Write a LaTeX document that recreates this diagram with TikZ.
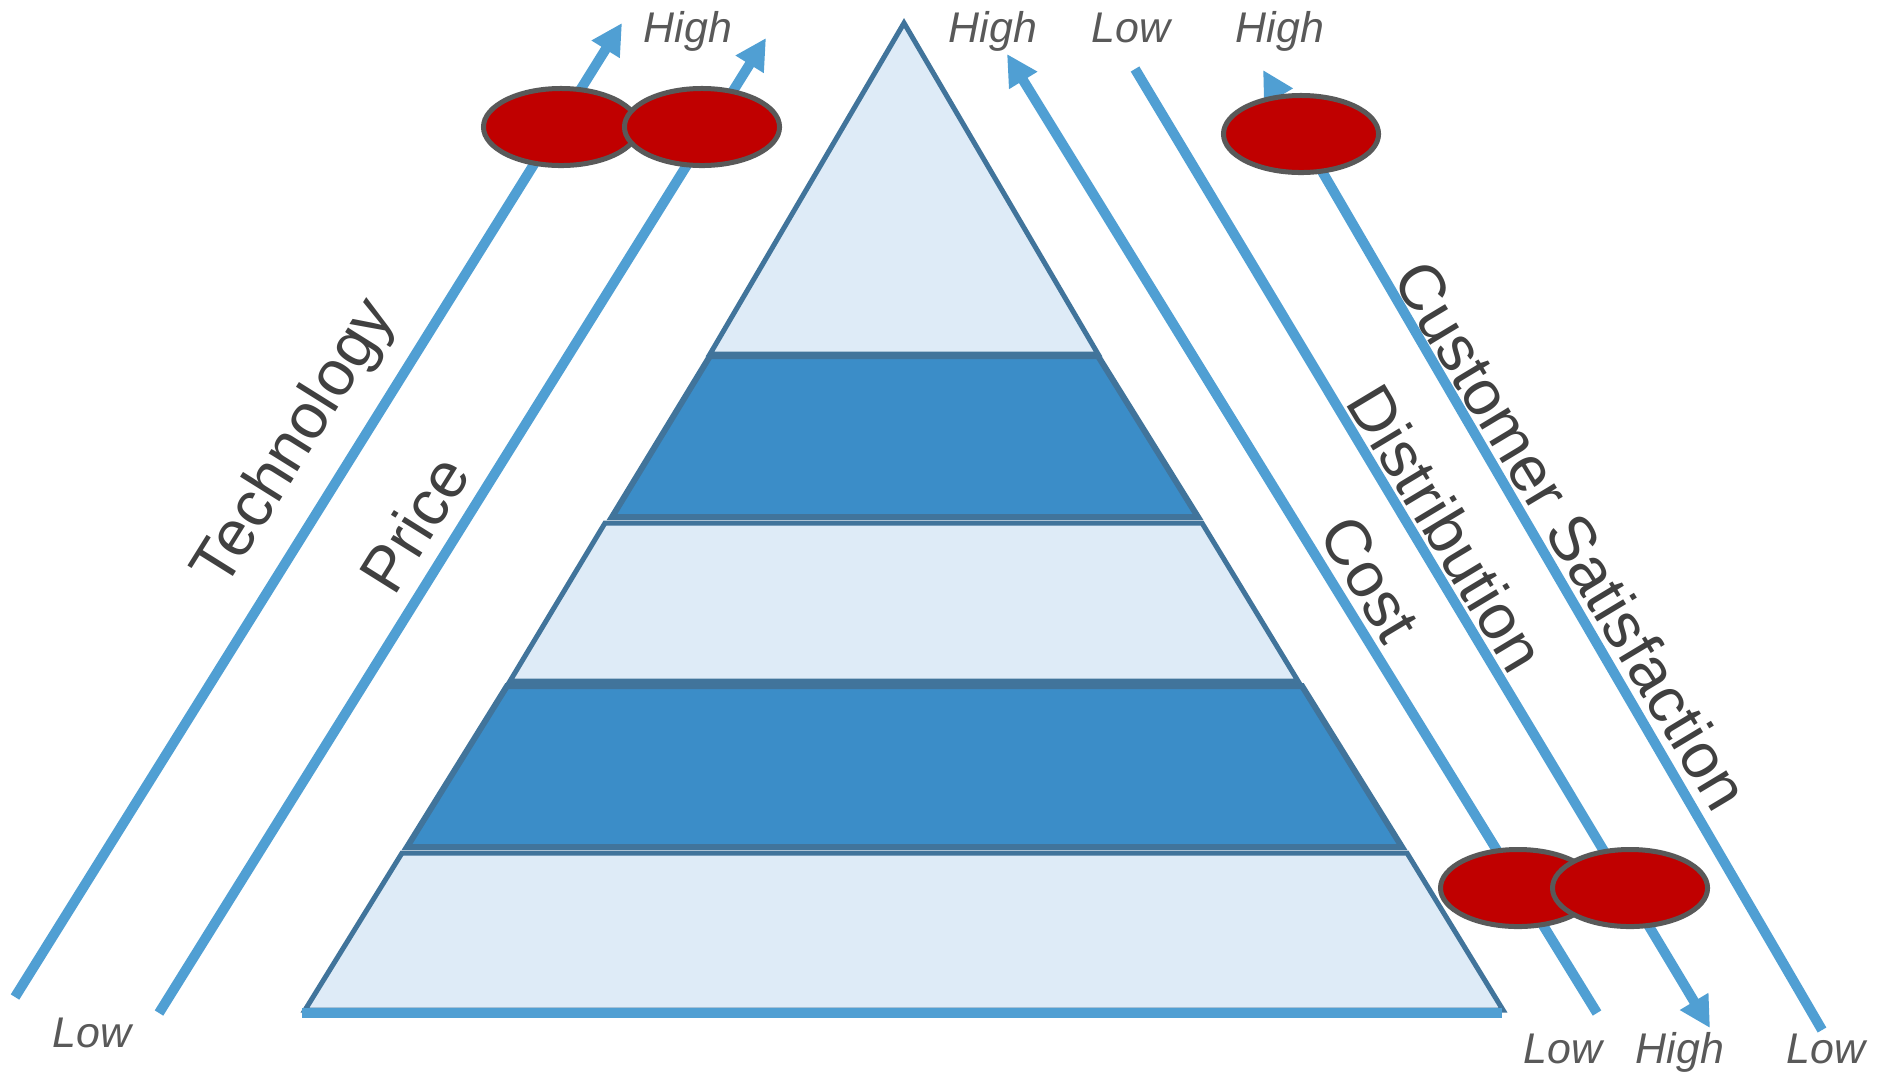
\documentclass[tikz,border=0pt]{standalone}
\usepackage{fontspec}
\setmainfont{Liberation Sans}
\usetikzlibrary{arrows.meta,shapes.geometric}
\definecolor{axisblue}{RGB}{80,159,211}
\definecolor{lightfill}{RGB}{222,235,247}
\definecolor{darkfill}{RGB}{59,141,200}
\definecolor{edgeblue}{RGB}{65,116,155}
\definecolor{dotred}{RGB}{192,0,0}
\definecolor{dotborder}{RGB}{89,89,89}
\definecolor{levelgray}{RGB}{89,89,89}
\definecolor{namegray}{RGB}{64,64,64}
\begin{document}
\begin{tikzpicture}[x=0.01cm,y=-0.01cm,
  axisline/.style={draw=axisblue,line width=0.1cm},
  axisarrow/.style={axisline,-{Triangle[length=0.31cm,width=0.31cm]}},
  layerlight/.style={fill=lightfill,draw=edgeblue,line width=0.05cm,line join=miter},
  layerdark/.style={fill=darkfill,draw=edgeblue,line width=0.06cm,line join=miter},
  reddot/.style={ellipse,draw=dotborder,fill=dotred,line width=0.05cm,minimum width=1.55cm,minimum height=0.77cm,inner sep=0pt},
  levellabel/.style={text=levelgray,font=\fontsize{12.2}{14}\selectfont\itshape,anchor=base,inner sep=0pt},
  axisname/.style={text=namegray,font=\fontsize{18.2}{21}\selectfont,anchor=center,inner sep=0pt}]
\useasboundingbox (0,0) rectangle (1883,1075);

% pyramid layers
\path[layerlight] (904,23) -- (1098,354) -- (710,354) -- cycle;
\path[layerdark] (710,356) -- (1098,356) -- (1198,517) -- (612,517) -- cycle;
\path[layerlight] (605,523) -- (1202,523) -- (1298,681) -- (510,681) -- cycle;
\path[layerdark] (507,686) -- (1302,686) -- (1402,847) -- (407,847) -- cycle;
\path[layerlight] (402,853) -- (1407,853) -- (1503,1010) -- (305,1010) -- cycle;

% base bar
\coordinate (baseL) at (302,1013);
\coordinate (baseR) at (1502,1013);
\draw[axisline] (baseL) -- (baseR);

% axis end points
\coordinate (techLow) at (15,997);
\coordinate (techHigh) at (622,23);
\coordinate (priceLow) at (159,1013);
\coordinate (priceHigh) at (766,38);
\coordinate (costLow) at (1597,1013);
\coordinate (costHigh) at (1007,54);
\coordinate (distLow) at (1135,69);
\coordinate (distHigh) at (1710,1028);
\coordinate (csLow) at (1822,1030);
\coordinate (csHigh) at (1263,70);

\draw[axisarrow] (techLow) -- (techHigh);
\draw[axisarrow] (priceLow) -- (priceHigh);
\draw[axisarrow] (costLow) -- (costHigh);
\draw[axisarrow] (distLow) -- (distHigh);
\draw[axisarrow] (csLow) -- (csHigh);

% axis names
\node[axisname,rotate=58] (techName) at (296,444) {Technology};
\node[axisname,rotate=58] (priceName) at (414,524) {Price};
\node[axisname,rotate=-59] (costName) at (1370,579) {Cost};
\node[axisname,rotate=-59] (distName) at (1447,528) {Distribution};
\node[axisname,rotate=-59] (csName) at (1572,535) {Customer Satisfaction};

% level labels
\node[levellabel] (lblHighTL) at (688,42) {High};
\node[levellabel] (lblLowBL) at (92,1047) {Low};
\node[levellabel] (lblHighCost) at (993,42) {High};
\node[levellabel] (lblLowDist) at (1131,42) {Low};
\node[levellabel] (lblHighCS) at (1280,42) {High};
\node[levellabel] (lblLowCost) at (1563,1063) {Low};
\node[levellabel] (lblHighDist) at (1680,1063) {High};
\node[levellabel] (lblLowCS) at (1826,1063) {Low};

% markers
\node[reddot] (dotTech) at (561,127) {};
\node[reddot] (dotPrice) at (702,127) {};
\node[reddot] (dotCS) at (1301,134) {};
\node[reddot] (dotCost) at (1518,888) {};
\node[reddot] (dotDist) at (1630,888) {};
\end{tikzpicture}
\end{document}
